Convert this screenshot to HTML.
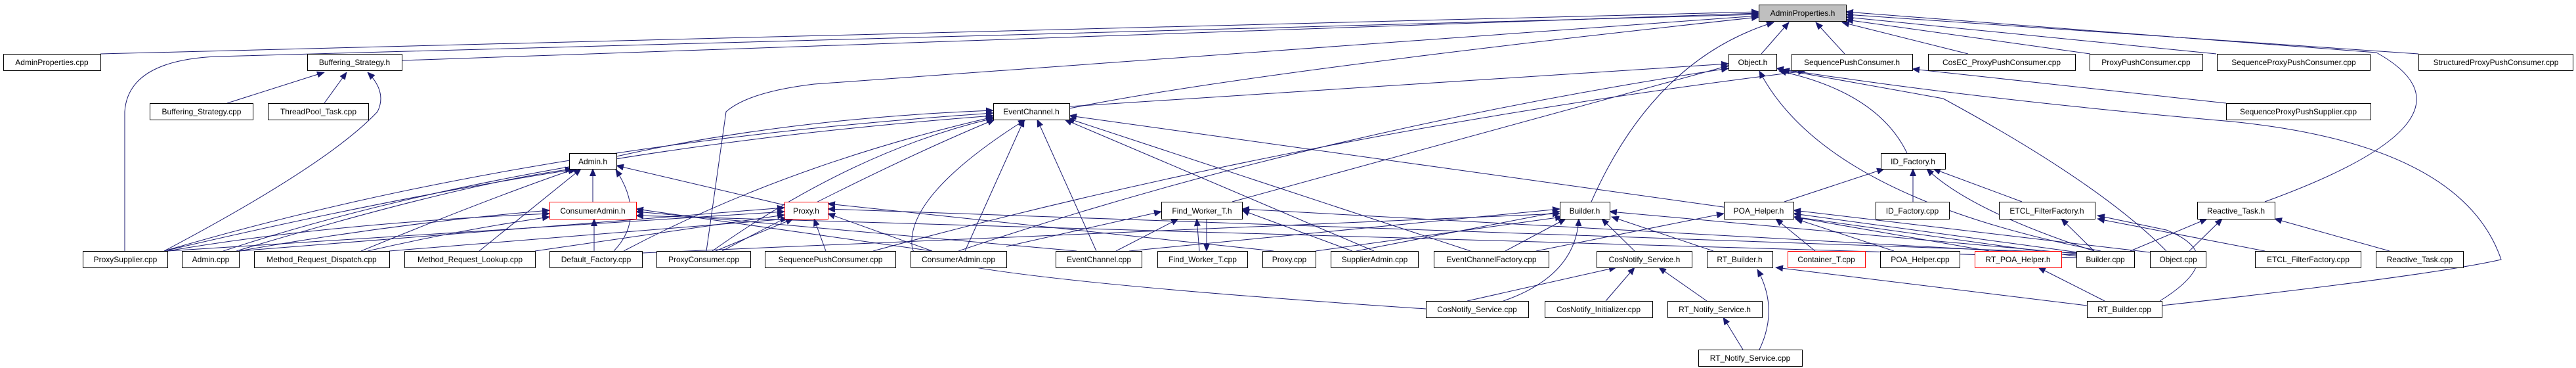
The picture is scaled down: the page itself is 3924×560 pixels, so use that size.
<!DOCTYPE html>
<html><head><meta charset="utf-8"><style>
html,body{margin:0;padding:0;background:#fff;}
svg{display:block;}
text{font-family:"Liberation Sans",sans-serif;font-size:12px;fill:#000;}
</style></head><body>
<svg width="3924" height="560" viewBox="0 0 3924 560" xmlns="http://www.w3.org/2000/svg">
<defs>
<marker id="a" markerUnits="userSpaceOnUse" markerWidth="12" markerHeight="10" refX="11" refY="5" orient="auto">
<path d="M0,0 L12,5 L0,10 Z" fill="#191970"/>
</marker>
</defs>
<g fill="none" stroke="#191970" stroke-width="1" marker-end="url(#a)">
<!-- to AdminProperties.h -->
<path d="M153,82 L2679,18"/>
<path d="M612,92 L2679,20"/>
<path d="M190,382 L190,170 Q195,92 330,86 L2679,22"/>
<path d="M1076,382 L1106,170 Q1140,140 1240,128 L2679,24"/>
<path d="M1629,165 Q1900,110 2679,26"/>
<path d="M2424,307 Q2520,90 2702,34"/>
<path d="M2683,82 L2725,34"/>
<path d="M2810,82 L2766,34"/>
<path d="M2998,82 L2806,34"/>
<path d="M3184,82 L2812,30"/>
<path d="M3376,82 L2812,26"/>
<path d="M3684,82 L2812,22"/>
<path d="M3450,307 Q3800,180 3620,80 L2812,18"/>
<!-- Buffering_Strategy.h -->
<path d="M346,157 L494,110"/>
<path d="M494,157 L528,110"/>
<path d="M250,382 Q500,250 575,170 Q590,140 560,110"/>
<!-- Object.h / SequencePushConsumer.h -->
<path d="M1629,162 L2633,97"/>
<path d="M1877,307 L2633,100"/>
<path d="M1460,382 Q2000,200 2633,104"/>
<path d="M1330,382 Q2000,200 2750,108"/>
<path d="M2905,233 Q2860,140 2710,108"/>
<path d="M3300,382 Q3200,280 2960,150 L2715,106"/>
<path d="M3200,382 Q2780,300 2680,108"/>
<path d="M3391,157 L2913,105"/>
<path d="M3293,465 Q3700,420 3810,395 Q3750,220 3400,185 Q3000,150 2706,104"/>
<!-- EventChannel.h -->
<path d="M939,238 Q1200,180 1513,168"/>
<path d="M250,382 Q800,220 1513,172"/>
<path d="M340,382 Q800,230 1513,176"/>
<path d="M1085,382 Q1300,230 1513,180"/>
<path d="M1100,382 Q1350,250 1515,182"/>
<path d="M1470,382 L1560,182"/>
<path d="M1670,382 L1580,182"/>
<path d="M2172,470 Q1420,420 1390,380 Q1375,300 1562,182"/>
<path d="M2093,382 L1622,182"/>
<path d="M2240,382 L1626,180"/>
<path d="M3163,390 L1629,176"/>
<path d="M950,382 Q1200,250 1513,178"/>
<!-- Admin.h -->
<path d="M903,307 L903,257"/>
<path d="M250,382 Q600,300 880,257"/>
<path d="M360,382 Q700,280 872,257"/>
<path d="M550,382 Q750,300 876,257"/>
<path d="M730,382 L885,257"/>
<path d="M935,382 Q985,330 938,258"/>
<path d="M1195,312 L939,252"/>
<!-- ConsumerAdmin.h -->
<path d="M255,382 Q500,340 837,325"/>
<path d="M364,382 Q600,340 837,320"/>
<path d="M560,382 Q700,350 837,330"/>
<path d="M905,382 L905,333"/>
<path d="M1420,382 L969,318"/>
<path d="M1640,382 L969,322"/>
<path d="M3163,392 L969,328"/>
<!-- Proxy.h -->
<path d="M255,382 L1195,322"/>
<path d="M364,382 L1195,316"/>
<path d="M593,382 L1200,333"/>
<path d="M815,382 L1195,327"/>
<path d="M1090,382 L1208,333"/>
<path d="M1258,382 L1240,333"/>
<path d="M1420,382 L1261,325"/>
<path d="M1940,382 L1261,310"/>
<path d="M3170,385 L1261,318"/>
<!-- Find_Worker_T.h -->
<path d="M1827,382 L1823,333"/>
<path d="M1838,333 L1838,382"/>
<path d="M1700,382 L1795,333"/>
<path d="M1533,375 L1769,322"/>
<path d="M2060,382 L1892,320"/>
<path d="M3163,388 L1892,318"/>
<!-- Builder.h -->
<path d="M2066,382 L2376,322"/>
<path d="M2293,382 L2385,333"/>
<path d="M2490,382 L2440,333"/>
<path d="M2610,382 L2455,330"/>
<path d="M2290,458 Q2400,420 2405,333"/>
<path d="M1720,382 L2376,318"/>
<path d="M3163,386 L2452,322"/>
<path d="M978,385 L2376,325"/>
<path d="M2004,382 L2380,330"/>
<!-- POA_Helper.h / ID_Factory.h -->
<path d="M2718,307 L2870,257"/>
<path d="M2765,382 L2705,333"/>
<path d="M2885,382 L2735,333"/>
<path d="M3030,382 L2732,330"/>
<path d="M3165,384 L2732,325"/>
<path d="M2340,382 L2626,325"/>
<path d="M3275,384 L2732,320"/>
<path d="M2914,307 L2914,257"/>
<path d="M3080,307 L2945,257"/>
<path d="M3190,382 Q3000,320 2935,257"/>
<!-- ETCL / Reactive -->
<path d="M3190,382 L3140,333"/>
<path d="M3450,382 L3195,333"/>
<path d="M3290,458 Q3400,390 3300,350 L3195,328"/>
<path d="M3245,382 L3362,333"/>
<path d="M3335,382 L3385,333"/>
<path d="M3640,382 L3465,333"/>
<!-- lower -->
<path d="M2235,458 L2462,407"/>
<path d="M2446,458 L2490,407"/>
<path d="M2600,458 L2527,407"/>
<path d="M2680,532 Q2710,470 2677,410"/>
<path d="M3179,465 L2705,407"/>
<path d="M2655,532 L2625,483"/>
<path d="M3206,458 L3105,407"/>
</g>
<g stroke="#000" stroke-width="1" fill="#fff">
<rect x="2679.5" y="7.5" width="133" height="25" fill="#bfbfbf"/>
<rect x="5.5" y="82.5" width="148" height="25"/>
<rect x="468.5" y="82.5" width="144" height="25"/>
<rect x="2633.5" y="82.5" width="73" height="25"/>
<rect x="2729.5" y="82.5" width="184" height="25"/>
<rect x="2937.5" y="82.5" width="224" height="25"/>
<rect x="3183.5" y="82.5" width="172" height="25"/>
<rect x="3377.5" y="82.5" width="233" height="25"/>
<rect x="3684.5" y="82.5" width="235" height="25"/>
<rect x="228.5" y="157.5" width="157" height="25"/>
<rect x="408.5" y="157.5" width="153" height="25"/>
<rect x="1513.5" y="157.5" width="116" height="25"/>
<rect x="3391.5" y="157.5" width="220" height="25"/>
<rect x="867.5" y="233.5" width="72" height="24"/>
<rect x="2865.5" y="233.5" width="98" height="24"/>
<rect x="837.5" y="307.5" width="132" height="26" stroke="#f00"/>
<rect x="1195.5" y="307.5" width="66" height="26" stroke="#f00"/>
<rect x="1769.5" y="307.5" width="123" height="26"/>
<rect x="2376.5" y="307.5" width="76" height="26"/>
<rect x="2626.5" y="307.5" width="106" height="26"/>
<rect x="2857.5" y="307.5" width="112" height="26"/>
<rect x="3045.5" y="307.5" width="146" height="26"/>
<rect x="3347.5" y="307.5" width="118" height="26"/>
<rect x="126.5" y="382.5" width="129" height="25"/>
<rect x="277.5" y="382.5" width="87" height="25"/>
<rect x="387.5" y="382.5" width="206" height="25"/>
<rect x="616.5" y="382.5" width="199" height="25"/>
<rect x="837.5" y="382.5" width="141" height="25"/>
<rect x="1000.5" y="382.5" width="143" height="25"/>
<rect x="1165.5" y="382.5" width="199" height="25"/>
<rect x="1387.5" y="382.5" width="146" height="25"/>
<rect x="1608.5" y="382.5" width="131" height="25"/>
<rect x="1763.5" y="382.5" width="137" height="25"/>
<rect x="1923.5" y="382.5" width="81" height="25"/>
<rect x="2027.5" y="382.5" width="133" height="25"/>
<rect x="2184.5" y="382.5" width="175" height="25"/>
<rect x="2432.5" y="382.5" width="145" height="25"/>
<rect x="2600.5" y="382.5" width="100" height="25"/>
<rect x="2723.5" y="382.5" width="118" height="25" stroke="#f00"/>
<rect x="2864.5" y="382.5" width="121" height="25"/>
<rect x="3008.5" y="382.5" width="132" height="25" stroke="#f00"/>
<rect x="3163.5" y="382.5" width="88" height="25"/>
<rect x="3275.5" y="382.5" width="85" height="25"/>
<rect x="3435.5" y="382.5" width="161" height="25"/>
<rect x="3619.5" y="382.5" width="133" height="25"/>
<rect x="2172.5" y="458.5" width="156" height="25"/>
<rect x="2353.5" y="458.5" width="164" height="25"/>
<rect x="2540.5" y="458.5" width="144" height="25"/>
<rect x="3179.5" y="458.5" width="114" height="25"/>
<rect x="2587.5" y="532.5" width="158" height="25"/>
</g>
<g text-anchor="middle">
<text x="2746" y="24">AdminProperties.h</text>
<text x="79" y="99">AdminProperties.cpp</text>
<text x="540" y="99">Buffering_Strategy.h</text>
<text x="2670" y="99">Object.h</text>
<text x="2821" y="99">SequencePushConsumer.h</text>
<text x="3049" y="99">CosEC_ProxyPushConsumer.cpp</text>
<text x="3269" y="99">ProxyPushConsumer.cpp</text>
<text x="3494" y="99">SequenceProxyPushConsumer.cpp</text>
<text x="3802" y="99">StructuredProxyPushConsumer.cpp</text>
<text x="307" y="174">Buffering_Strategy.cpp</text>
<text x="485" y="174">ThreadPool_Task.cpp</text>
<text x="1571" y="174">EventChannel.h</text>
<text x="3501" y="174">SequenceProxyPushSupplier.cpp</text>
<text x="903" y="250">Admin.h</text>
<text x="2914" y="250">ID_Factory.h</text>
<text x="903" y="325">ConsumerAdmin.h</text>
<text x="1228" y="325">Proxy.h</text>
<text x="1831" y="325">Find_Worker_T.h</text>
<text x="2414" y="325">Builder.h</text>
<text x="2679" y="325">POA_Helper.h</text>
<text x="2913" y="325">ID_Factory.cpp</text>
<text x="3118" y="325">ETCL_FilterFactory.h</text>
<text x="3406" y="325">Reactive_Task.h</text>
<text x="191" y="399">ProxySupplier.cpp</text>
<text x="321" y="399">Admin.cpp</text>
<text x="490" y="399">Method_Request_Dispatch.cpp</text>
<text x="716" y="399">Method_Request_Lookup.cpp</text>
<text x="908" y="399">Default_Factory.cpp</text>
<text x="1072" y="399">ProxyConsumer.cpp</text>
<text x="1265" y="399">SequencePushConsumer.cpp</text>
<text x="1460" y="399">ConsumerAdmin.cpp</text>
<text x="1674" y="399">EventChannel.cpp</text>
<text x="1832" y="399">Find_Worker_T.cpp</text>
<text x="1964" y="399">Proxy.cpp</text>
<text x="2094" y="399">SupplierAdmin.cpp</text>
<text x="2272" y="399">EventChannelFactory.cpp</text>
<text x="2505" y="399">CosNotify_Service.h</text>
<text x="2650" y="399">RT_Builder.h</text>
<text x="2782" y="399">Container_T.cpp</text>
<text x="2925" y="399">POA_Helper.cpp</text>
<text x="3074" y="399">RT_POA_Helper.h</text>
<text x="3207" y="399">Builder.cpp</text>
<text x="3318" y="399">Object.cpp</text>
<text x="3516" y="399">ETCL_FilterFactory.cpp</text>
<text x="3686" y="399">Reactive_Task.cpp</text>
<text x="2250" y="475">CosNotify_Service.cpp</text>
<text x="2435" y="475">CosNotify_Initializer.cpp</text>
<text x="2612" y="475">RT_Notify_Service.h</text>
<text x="3236" y="475">RT_Builder.cpp</text>
<text x="2666" y="549">RT_Notify_Service.cpp</text>
</g>
</svg>
</body></html>
